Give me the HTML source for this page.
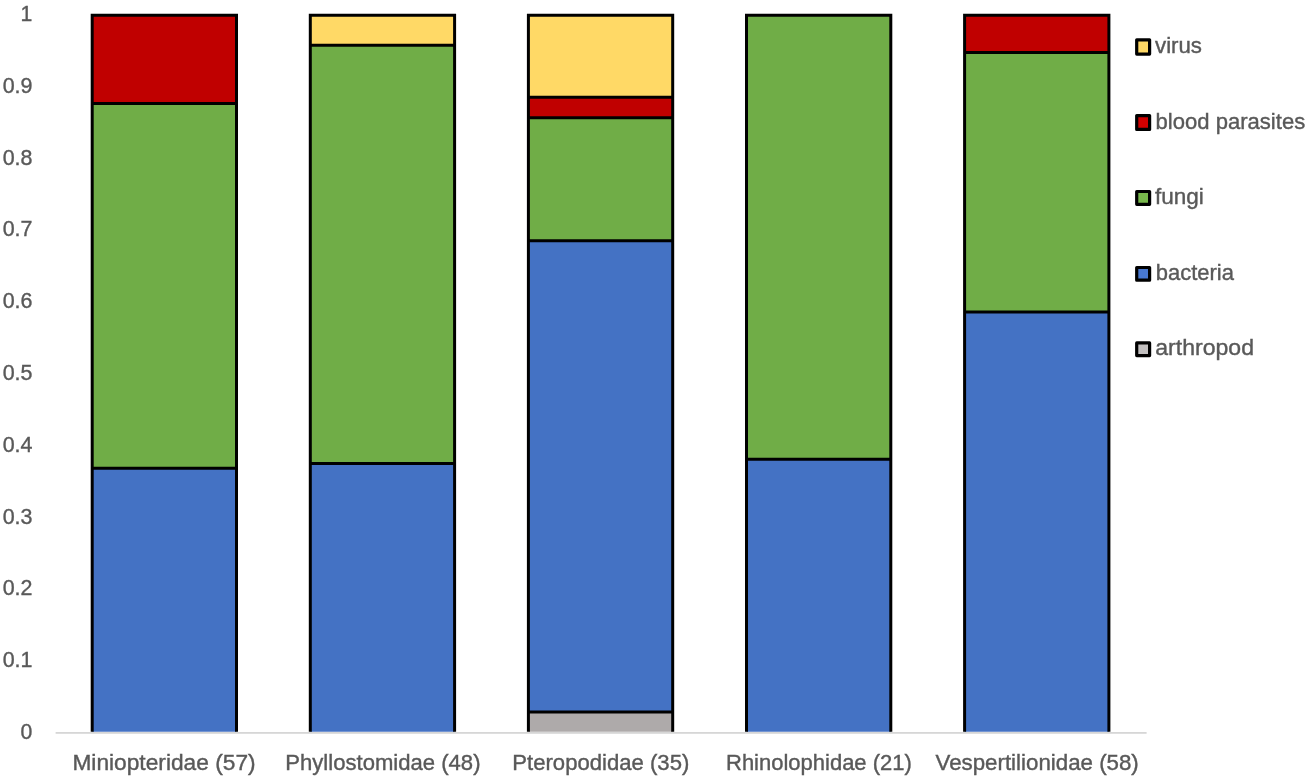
<!DOCTYPE html>
<html lang="en">
<head>
<meta charset="utf-8">
<title>Parasite groups by bat family</title>
<style>
html,body{margin:0;padding:0;background:#fff;}
body{width:1311px;height:782px;overflow:hidden;}
svg{display:block;}
text{font-family:"Liberation Sans",sans-serif;font-size:22.5px;fill:#595959;stroke:#595959;stroke-width:0.4;}
.seg{stroke:#000;stroke-width:3.0;stroke-linejoin:miter;}
.sw{stroke:#000;stroke-width:3.2;stroke-linejoin:round;}
</style>
</head>
<body>
<svg width="1311" height="782" viewBox="0 0 1311 782">
<rect x="0" y="0" width="1311" height="782" fill="#ffffff"/>
<defs><clipPath id="plot"><rect x="0" y="0" width="1311" height="731.7"/></clipPath></defs>

<g text-anchor="end" style="font-size:23px">
<text x="32.2" y="739.0" textLength="11.8" lengthAdjust="spacingAndGlyphs">0</text>
<text x="32.5" y="667.2" textLength="29.8" lengthAdjust="spacingAndGlyphs">0.1</text>
<text x="32.5" y="595.4" textLength="29.8" lengthAdjust="spacingAndGlyphs">0.2</text>
<text x="32.5" y="523.6" textLength="29.8" lengthAdjust="spacingAndGlyphs">0.3</text>
<text x="32.5" y="451.8" textLength="29.8" lengthAdjust="spacingAndGlyphs">0.4</text>
<text x="32.5" y="379.9" textLength="29.8" lengthAdjust="spacingAndGlyphs">0.5</text>
<text x="32.5" y="308.1" textLength="29.8" lengthAdjust="spacingAndGlyphs">0.6</text>
<text x="32.5" y="236.3" textLength="29.8" lengthAdjust="spacingAndGlyphs">0.7</text>
<text x="32.5" y="164.5" textLength="29.8" lengthAdjust="spacingAndGlyphs">0.8</text>
<text x="32.5" y="92.7" textLength="29.8" lengthAdjust="spacingAndGlyphs">0.9</text>
<text x="32.2" y="20.9" textLength="11.8" lengthAdjust="spacingAndGlyphs">1</text>
</g>
<g clip-path="url(#plot)">
<rect x="92.20" y="468.33" width="144.30" height="264.77" fill="#4472C4"/>
<rect x="92.20" y="103.39" width="144.30" height="365.44" fill="#70AD47"/>
<rect x="92.20" y="15.30" width="144.30" height="88.59" fill="#C00000"/>
<path class="seg" fill="none" d="M92.20 740V15.30H236.50V740M92.20 468.33H236.50M92.20 103.39H236.50"/>
<rect x="310.30" y="463.61" width="144.30" height="269.49" fill="#4472C4"/>
<rect x="310.30" y="45.19" width="144.30" height="418.93" fill="#70AD47"/>
<rect x="310.30" y="15.30" width="144.30" height="30.39" fill="#FFD966"/>
<path class="seg" fill="none" d="M310.30 740V15.30H454.60V740M310.30 463.61H454.60M310.30 45.19H454.60"/>
<rect x="528.40" y="712.11" width="144.30" height="20.99" fill="#AEAAAA"/>
<rect x="528.40" y="240.74" width="144.30" height="471.87" fill="#4472C4"/>
<rect x="528.40" y="117.77" width="144.30" height="123.47" fill="#70AD47"/>
<rect x="528.40" y="97.28" width="144.30" height="20.99" fill="#C00000"/>
<rect x="528.40" y="15.30" width="144.30" height="82.48" fill="#FFD966"/>
<path class="seg" fill="none" d="M528.40 740V15.30H672.70V740M528.40 712.11H672.70M528.40 240.74H672.70M528.40 117.77H672.70M528.40 97.28H672.70"/>
<rect x="746.50" y="459.34" width="144.30" height="273.76" fill="#4472C4"/>
<rect x="746.50" y="15.30" width="144.30" height="444.54" fill="#70AD47"/>
<path class="seg" fill="none" d="M746.50 740V15.30H890.80V740M746.50 459.34H890.80"/>
<rect x="964.60" y="312.11" width="144.30" height="420.99" fill="#4472C4"/>
<rect x="964.60" y="52.40" width="144.30" height="260.21" fill="#70AD47"/>
<rect x="964.60" y="15.30" width="144.30" height="37.60" fill="#C00000"/>
<path class="seg" fill="none" d="M964.60 740V15.30H1108.90V740M964.60 312.11H1108.90M964.60 52.40H1108.90"/>
</g>
<rect x="55.6" y="732" width="1091" height="1.8" fill="#D6D6D6"/>
<g>
<text x="72.4" y="770.0" textLength="183.2" lengthAdjust="spacingAndGlyphs">Miniopteridae (57)</text>
<text x="285.3" y="770.0" textLength="195.2" lengthAdjust="spacingAndGlyphs">Phyllostomidae (48)</text>
<text x="512.3" y="770.0" textLength="177.0" lengthAdjust="spacingAndGlyphs">Pteropodidae (35)</text>
<text x="726.0" y="770.0" textLength="185.8" lengthAdjust="spacingAndGlyphs">Rhinolophidae (21)</text>
<text x="935.5" y="770.0" textLength="203.3" lengthAdjust="spacingAndGlyphs">Vespertilionidae (58)</text>
</g>
<g>
<rect class="sw" x="1136.7" y="39.80" width="12.9" height="14.25" fill="#FFD966"/>
<text x="1155.0" y="53.0" textLength="47.0" lengthAdjust="spacingAndGlyphs">virus</text>
<rect class="sw" x="1136.7" y="115.60" width="12.9" height="13.80" fill="#D00000"/>
<text x="1155.5" y="128.6" textLength="149.7" lengthAdjust="spacingAndGlyphs">blood parasites</text>
<rect class="sw" x="1136.7" y="191.50" width="12.9" height="12.80" fill="#78B84C"/>
<text x="1155.0" y="204.2" textLength="48.8" lengthAdjust="spacingAndGlyphs">fungi</text>
<rect class="sw" x="1136.7" y="267.50" width="12.9" height="12.70" fill="#4878D0"/>
<text x="1155.7" y="279.8" textLength="78.2" lengthAdjust="spacingAndGlyphs">bacteria</text>
<rect class="sw" x="1136.7" y="342.95" width="12.9" height="12.65" fill="#C2BFBF"/>
<text x="1155.3" y="355.4" textLength="98.7" lengthAdjust="spacingAndGlyphs">arthropod</text>
</g>
</svg>
</body>
</html>
